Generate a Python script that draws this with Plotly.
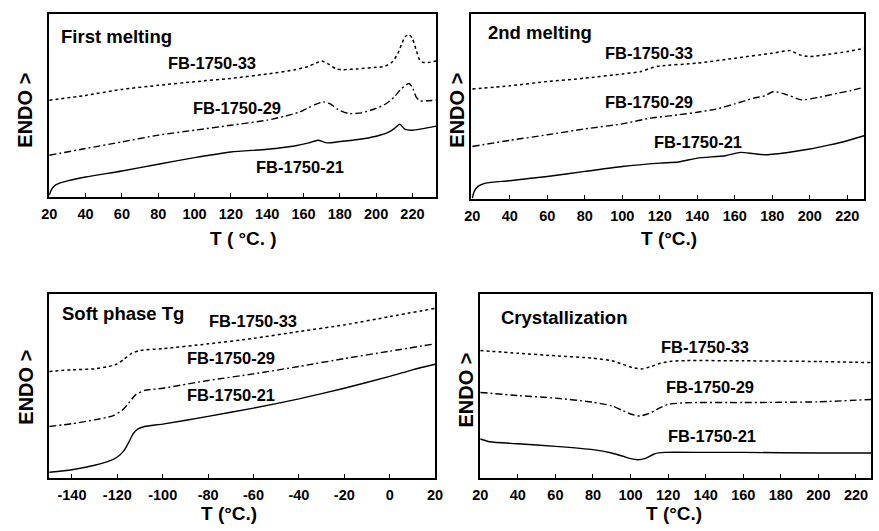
import plotly.graph_objects as go

# ---- First melting (heating scan 1) ----
t1_33 = [20, 40, 60, 80, 100, 120, 140, 155, 163, 167, 170, 174, 178, 182, 190, 200, 205, 209, 212, 214, 216, 218, 220, 222, 224, 226, 230, 233]
h1_33 = [52.9, 55.5, 58.8, 61.0, 63.0, 64.8, 67.2, 69.5, 71.5, 73.2, 74.3, 72.5, 70.0, 69.6, 70.0, 70.9, 71.5, 73.9, 78.5, 83.5, 87.6, 88.9, 86.5, 80.5, 74.8, 73.5, 73.7, 74.3]
t1_29 = [20, 40, 60, 80, 100, 120, 140, 150, 158, 163, 167, 171, 175, 179, 185, 192, 200, 205, 210, 214, 218, 220, 222, 224, 228, 233]
h1_29 = [22.8, 26.5, 30.1, 33.8, 36.5, 39.2, 42.0, 44.2, 46.5, 48.9, 50.7, 52.0, 50.7, 47.8, 45.6, 46.0, 48.4, 50.7, 54.7, 59.3, 62.0, 59.9, 54.7, 52.6, 52.6, 52.9]
t1_21 = [20, 21, 23, 26, 30, 40, 60, 80, 100, 120, 140, 155, 163, 168, 173, 180, 190, 200, 206, 210, 213, 216, 220, 233]
h1_21 = [0.9, 3.6, 6.2, 7.7, 8.8, 10.9, 14.2, 17.9, 21.5, 24.6, 26.1, 27.9, 29.6, 31.0, 29.6, 30.3, 31.4, 33.2, 35.0, 37.4, 39.8, 36.9, 36.5, 38.7]

# ---- 2nd melting (heating scan 2) ----
t2_33 = [20, 40, 60, 80, 100, 110, 115, 120, 140, 160, 180, 189.4, 194.7, 200, 210, 220, 229]
h2_33 = [59.4, 61.2, 63.5, 65.3, 67.6, 68.9, 70.7, 71.9, 73.4, 76.1, 78.8, 80.2, 77.9, 77.0, 78.2, 79.7, 81.5]
t2_29 = [20, 40, 60, 80, 100, 115, 130, 140, 150, 160, 170, 176, 180.7, 188, 195.5, 205, 215, 222, 229]
h2_29 = [28.4, 31.7, 34.7, 37.9, 40.6, 43.7, 45.5, 46.9, 48.6, 51.4, 54.5, 55.8, 58.1, 56.3, 53.6, 55.0, 57.2, 58.6, 60.4]
t2_21 = [20, 21, 23, 27, 40, 60, 80, 100, 120, 130, 140, 155, 163, 170, 177, 190, 200, 210, 220, 229]
h2_21 = [0.5, 4.1, 6.8, 8.6, 9.9, 12.2, 14.9, 17.6, 19.4, 20.0, 22.1, 23.4, 25.2, 24.5, 23.9, 25.4, 27.0, 29.1, 31.5, 34.2]

# ---- Soft phase Tg ----
t3_33 = [-150, -140, -130, -124, -120, -117, -114, -110, -100, -80, -60, -40, -20, 0, 20]
h3_33 = [57.9, 58.8, 59.3, 60.6, 62.0, 64.6, 67.5, 69.3, 70.3, 72.9, 75.9, 79.6, 83.2, 87.7, 92.2]
t3_29 = [-150, -140, -130, -122, -118, -115, -112, -108, -100, -80, -60, -40, -20, 0, 20]
h3_29 = [28.0, 29.5, 31.6, 33.8, 36.7, 40.7, 45.2, 47.6, 48.8, 53.0, 56.6, 60.6, 64.9, 68.9, 72.9]
t3_21 = [-150, -140, -130, -124, -120, -117, -115, -113, -111, -108, -100, -80, -60, -40, -20, 0, 10, 20]
h3_21 = [3.1, 4.5, 6.9, 9.0, 11.4, 15.0, 19.3, 24.1, 26.6, 28.0, 29.3, 33.5, 38.0, 43.0, 48.8, 55.2, 58.8, 61.8]

# ---- Crystallization (cooling scan) ----
t4_33 = [20, 40, 60, 80, 90, 96, 101, 106, 111, 116, 122, 130, 160, 200, 228]
h4_33 = [69.3, 67.8, 66.4, 65.1, 63.7, 61.8, 60.0, 59.3, 60.6, 62.4, 63.5, 63.8, 63.7, 63.3, 62.7]
t4_29 = [20, 40, 60, 80, 90, 95, 100, 105, 110, 115, 120, 130, 160, 200, 228]
h4_29 = [46.5, 44.8, 43.4, 41.2, 39.2, 37.0, 34.8, 33.7, 35.1, 37.8, 40.0, 40.9, 41.0, 41.4, 42.7]
t4_21 = [20, 25, 40, 60, 80, 90, 96, 100, 104, 108, 113, 118, 140, 160, 200, 228]
h4_21 = [21.2, 19.7, 18.6, 17.2, 15.4, 13.6, 11.8, 10.5, 9.9, 10.7, 13.2, 13.9, 13.9, 13.9, 13.6, 13.6]

sample_names = ["FB-1750-33", "FB-1750-29", "FB-1750-21"]
panel_titles = ["First melting", "2nd melting", "Soft phase Tg", "Crystallization"]
x_titles = ["T ( °C. )", "T (°C.)", "T (°C.)", "T (°C.)"]
y_title = "ENDO >"

ticks_heat = [20, 40, 60, 80, 100, 120, 140, 160, 180, 200, 220]
ticks_tg = [-140, -120, -100, -80, -60, -40, -20, 0, 20]

panels = [
    [(t1_33, h1_33), (t1_29, h1_29), (t1_21, h1_21)],
    [(t2_33, h2_33), (t2_29, h2_29), (t2_21, h2_21)],
    [(t3_33, h3_33), (t3_29, h3_29), (t3_21, h3_21)],
    [(t4_33, h4_33), (t4_29, h4_29), (t4_21, h4_21)],
]
# short dashes, dash-dot, solid
dashes = ["3px,3px", "7px,3px,2px,3px", "solid"]
widths = [1.5, 1.4, 1.4]

W, H = 879, 531
FONT = "Liberation Sans, Arial, sans-serif"

# plot boxes in pixels: (left, right, top, bottom)
boxes = [(42, 436, 14, 197), (472, 872, 14, 199), (42, 435, 294, 478), (481, 879, 294, 478)]
x_ranges = [[20, 233], [19.5, 229], [-150, 20], [20, 228]]
x_ticks = [ticks_heat, ticks_heat, ticks_tg, ticks_heat]

fig = go.Figure()
layout = dict(
    width=W, height=H, margin=dict(l=0, r=0, t=0, b=0),
    paper_bgcolor="white", plot_bgcolor="white", showlegend=False,
    font=dict(family=FONT, color="black"),
)

for i, series in enumerate(panels):
    n = i + 1
    xa = "x" if n == 1 else f"x{n}"
    ya = "y" if n == 1 else f"y{n}"
    for (xs, ys), d, w in zip(series, dashes, widths):
        fig.add_trace(go.Scatter(x=xs, y=ys, mode="lines", xaxis=xa, yaxis=ya,
                                 line=dict(color="black", dash=d, width=w, shape="spline", smoothing=0.6),
                                 hoverinfo="skip"))
    l, r, t, b = boxes[i]
    layout[f"xaxis{'' if n == 1 else n}"] = dict(
        domain=[l / W, min(r / W, 1.0)], anchor=ya, range=x_ranges[i],
        tickvals=x_ticks[i], ticktext=[str(v) for v in x_ticks[i]],
        ticks="inside", ticklen=4, tickwidth=1, tickcolor="black",
        showline=True, linecolor="black", linewidth=1.5, mirror=True,
        showgrid=False, zeroline=False,
        tickfont=dict(family=FONT, size=14.5, color="black", weight="bold"),
        ticklabelstandoff=3,
    )
    layout[f"yaxis{'' if n == 1 else n}"] = dict(
        domain=[1 - b / H, 1 - t / H], anchor=xa, range=[0, 100],
        showticklabels=False, ticks="", showline=True, linecolor="black",
        linewidth=1.5, mirror=True, showgrid=False, zeroline=False,
    )

fig.update_layout(**layout)

def ann(text, px, py, anchor="center", size=14, weight="bold", angle=0):
    fig.add_annotation(text=text, x=px / W, y=1 - py / H, xref="paper", yref="paper",
                       xanchor=anchor, yanchor="middle", showarrow=False, textangle=angle,
                       font=dict(family=FONT, size=size, color="black", weight=weight))

# panel titles
title_pos = [(52, 36), (487, 33), (53, 313), (500, 317)]
for txt, (px, py) in zip(panel_titles, title_pos):
    ann(txt, px, py, anchor="left", size=18.5)

# sample labels next to each curve
label_pos = [
    [(208, 63), (233, 108), (297, 167)],
    [(653, 53), (653, 102), (703, 142)],
    [(250, 321), (227, 358), (227, 395)],
    [(710, 347), (715, 387), (717, 436)],
]
for pos in label_pos:
    for name, (px, py) in zip(sample_names, pos):
        ann(name, px, py, size=16.5)

# axis titles
xt_pos = [(240, 238), (673, 238), (225, 513), (678, 513)]
for txt, (px, py) in zip(x_titles, xt_pos):
    ann(txt, px, py, size=19)
yt_pos = [(17, 110), (457, 110), (18, 387), (467, 390)]
for px, py in yt_pos:
    ann(y_title, px, py, size=20, angle=-90)

fig.write_html("out.html")
